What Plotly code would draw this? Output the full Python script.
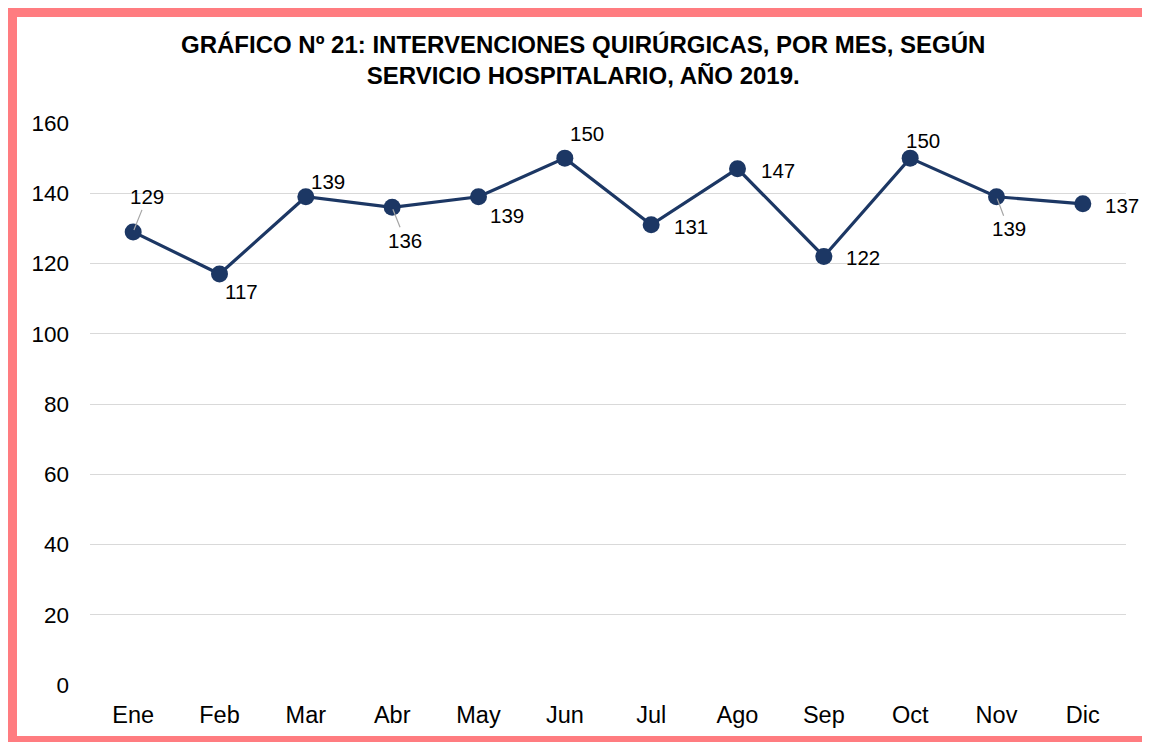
import plotly.graph_objects as go

months = ["Ene", "Feb", "Mar", "Abr", "May", "Jun", "Jul", "Ago", "Sep", "Oct", "Nov", "Dic"]
values = [129, 117, 139, 136, 139, 150, 131, 147, 122, 150, 139, 137]
title_lines = ["GRÁFICO Nº 21: INTERVENCIONES QUIRÚRGICAS, POR MES, SEGÚN",
               "SERVICIO HOSPITALARIO, AÑO 2019."]
y_ticks = [0, 20, 40, 60, 80, 100, 120, 140, 160]

# label offsets in pixels (dx, dy upward positive), leader flag
label_offsets = [(14, 35, True), (22, -17, False), (22, 15, False), (13, -33, True),
                 (28, -19, False), (22, 25, False), (40, -2, False), (40, -2, False),
                 (39, -1, False), (13, 18, False), (12, -32, True), (39, -2, False)]

OFF = 8  # page body margin
W, H = 1150 - OFF, 742 - OFF
L, T = 90 - OFF, 123 - OFF
R = W - (1126 - OFF)
B = H - (685 - OFF)
pw, ph = W - L - R, H - T - B
NAVY = "#1c3764"
PINK = "#ff7c80"
FONT = "Liberation Sans, Arial, sans-serif"

fig = go.Figure()
fig.add_trace(go.Scatter(
    x=months, y=values, mode="lines+markers",
    line=dict(color=NAVY, width=3.2),
    marker=dict(color=NAVY, size=17),
    hoverinfo="skip", showlegend=False,
))

annotations = []
for m, v, (dx, dy, lead) in zip(months, values, label_offsets):
    if lead:
        annotations.append(dict(x=m, y=v, xref="x", yref="y", text=str(v),
                                showarrow=True, arrowhead=0, arrowwidth=1.2,
                                arrowcolor="#a6a6a6", ax=dx, ay=-dy, standoff=2,
                                font=dict(family=FONT, size=20.5, color="#000")))
    else:
        annotations.append(dict(x=m, y=v, xref="x", yref="y", text=str(v),
                                showarrow=False, xshift=dx, yshift=dy,
                                font=dict(family=FONT, size=20.5, color="#000")))

def px2x(px):
    return (px - OFF - L) / pw

def py2y(py):
    return (H - B - (py - OFF)) / ph

annotations.append(dict(x=px2x(583), y=py2y(60), xref="paper", yref="paper",
                        text="<b>" + title_lines[0] + "</b><br><b>" + title_lines[1] + "</b>",
                        showarrow=False, xanchor="center", yanchor="middle",
                        font=dict(family=FONT, size=24, color="#000")))

shapes = [
    dict(type="rect", xref="paper", yref="paper", x0=px2x(8), x1=px2x(1149), y0=py2y(17), y1=py2y(8),
         fillcolor=PINK, line=dict(width=0), layer="above"),
    dict(type="rect", xref="paper", yref="paper", x0=px2x(8), x1=px2x(17), y0=py2y(742), y1=py2y(8),
         fillcolor=PINK, line=dict(width=0), layer="above"),
    dict(type="rect", xref="paper", yref="paper", x0=px2x(8), x1=px2x(1149), y0=py2y(742), y1=py2y(736),
         fillcolor=PINK, line=dict(width=0), layer="above"),
    dict(type="rect", xref="paper", yref="paper", x0=px2x(1147), x1=px2x(1149), y0=py2y(742), y1=py2y(8),
         fillcolor=PINK, line=dict(width=0), layer="above"),
]

fig.update_layout(
    width=W, height=H,
    margin=dict(l=L, r=R, t=T, b=B, pad=0),
    paper_bgcolor="white", plot_bgcolor="white",
    font=dict(family=FONT, size=23, color="#000"),
    annotations=annotations, shapes=shapes,
    xaxis=dict(range=[-0.5, len(months) - 0.5], showgrid=False, showline=False,
               zeroline=False, ticks="", tickfont=dict(size=23.5),
               ticklabelstandoff=13, fixedrange=True),
    yaxis=dict(range=[0, 160], tickvals=y_ticks, showgrid=True, gridcolor="#d9d9d9",
               gridwidth=1, zeroline=False, showline=False, ticks="",
               tickfont=dict(size=22.5), ticklabelstandoff=20, fixedrange=True),
)

fig.write_html("out.html")
